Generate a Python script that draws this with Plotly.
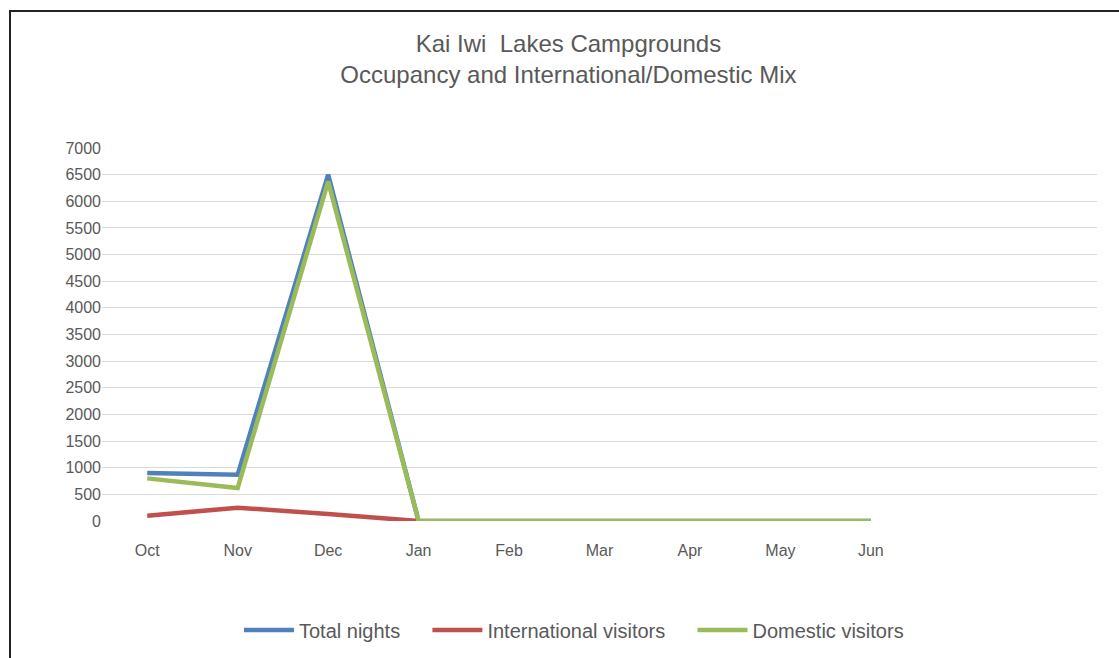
import plotly.graph_objects as go

months = ["Oct", "Nov", "Dec", "Jan", "Feb", "Mar", "Apr", "May", "Jun"]
total_nights = [900, 870, 6500, 0, 0, 0, 0, 0, 0]
international = [100, 250, 130, 0, None, None, None, None, None]
domestic = [800, 620, 6370, 0, 0, 0, 0, 0, 0]
series_names = ["Total nights", "International visitors", "Domestic visitors"]

W, H = 1119, 658
L, R, T, B = 102, 1097, 148, 521

FONT = "Liberation Sans, Arial, sans-serif"
GRAY = "#595959"
PAD = "\u00a0" * 4

fig = go.Figure()
fig.add_trace(go.Scatter(x=months, y=total_nights, name=series_names[0] + PAD, mode="lines",
                         line=dict(color="#4f81bd", width=4.5)))
fig.add_trace(go.Scatter(x=months, y=international, name=series_names[1] + PAD, mode="lines",
                         line=dict(color="#c0504d", width=4.5)))
fig.add_trace(go.Scatter(x=months, y=domestic, name=series_names[2], mode="lines",
                         line=dict(color="#9bbb59", width=4.5)))

def px_x(p):
    return (p - L) / (R - L)

def px_y(p):
    return (B - p) / (B - T)

fig.update_layout(
    width=W, height=H,
    margin=dict(l=L, r=W - R, t=T, b=H - B, autoexpand=False),
    paper_bgcolor="white", plot_bgcolor="white",
    title=dict(text="Kai Iwi  Lakes Campgrounds<br>Occupancy and International/Domestic Mix",
               x=0.508, xanchor="center", y=1 - 52 / H, yanchor="middle",
               font=dict(family=FONT, size=24, color=GRAY)),
    showlegend=True,
    legend=dict(orientation="h", x=px_x(574), xanchor="center", y=px_y(630), yanchor="middle",
                font=dict(family=FONT, size=20, color=GRAY), itemwidth=50,
                bgcolor="rgba(0,0,0,0)"),
    xaxis=dict(type="category", categoryorder="array", categoryarray=months,
               range=[-0.5, 10.5], showgrid=False, showline=False, zeroline=False,
               ticks="", ticklabelstandoff=18, automargin=False,
               tickfont=dict(family=FONT, size=16, color=GRAY), fixedrange=True),
    yaxis=dict(range=[0, 7000], dtick=500, showgrid=True, gridcolor="#d9d9d9", gridwidth=1,
               zeroline=False, showline=False, ticks="", ticklabelstandoff=0, automargin=False,
               tickfont=dict(family=FONT, size=16, color=GRAY)),
    shapes=[
        dict(type="line", xref="paper", yref="paper", x0=px_x(10), x1=px_x(1125),
             y0=px_y(11), y1=px_y(11), line=dict(color="#222222", width=2)),
        dict(type="line", xref="paper", yref="paper", x0=px_x(10), x1=px_x(10),
             y0=px_y(10), y1=px_y(665), line=dict(color="#222222", width=2)),
    ],
)

fig.write_html("out.html")
